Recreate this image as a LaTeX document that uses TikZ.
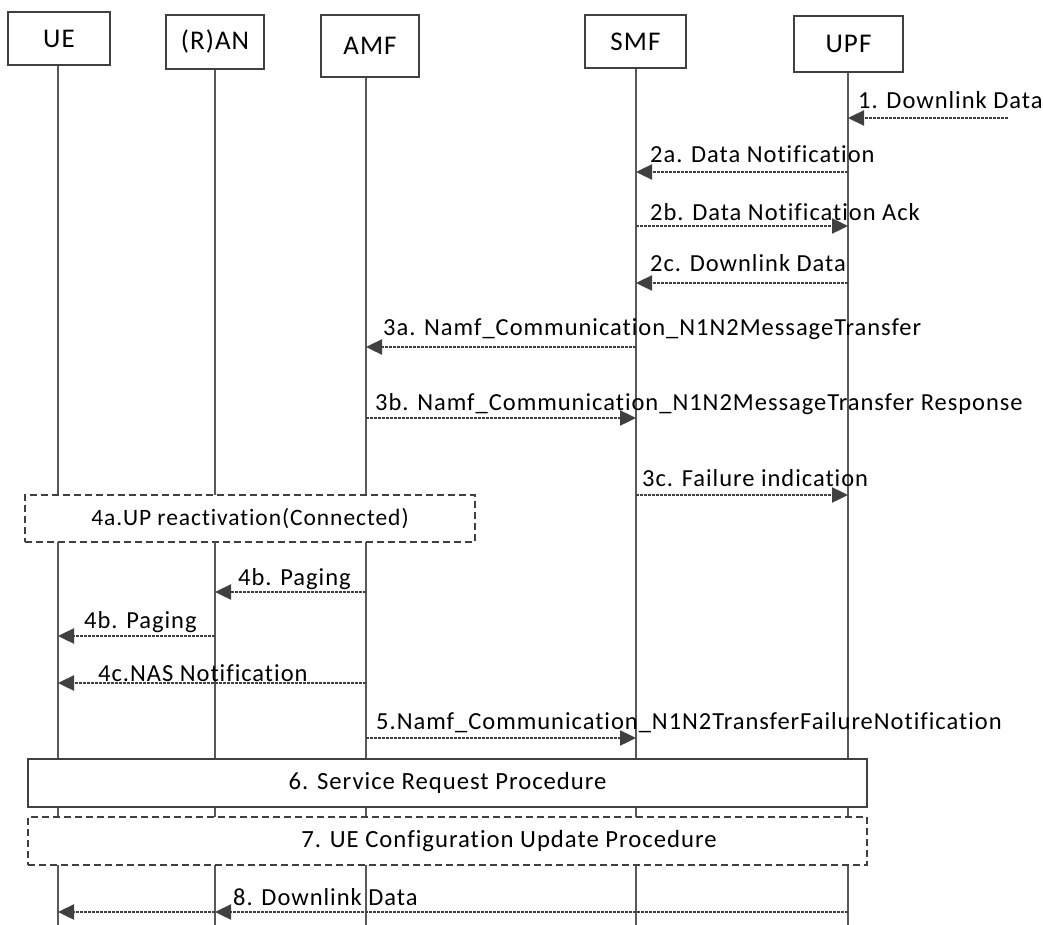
\documentclass[tikz,border=0pt]{standalone}
\usepackage{fontspec}
\setmainfont{Carlito}[LetterSpace=4,Ligatures=NoCommon]
\usetikzlibrary{arrows.meta}
\definecolor{lc}{HTML}{595959}
\definecolor{ac}{HTML}{404040}
\begin{document}
\begin{tikzpicture}[x=1pt,y=-1pt,
  head/.style={draw=ac,line width=1.6pt,fill=white,inner sep=0pt,font=\fontsize{27}{30}\selectfont},
  life/.style={draw=lc,line width=1.6pt},
  msg/.style={draw=ac,line width=2.4pt,dash pattern=on 3pt off 1pt,-{Triangle[length=16pt,width=15pt]}},
  lbl/.style={anchor=base west,inner sep=0pt,font=\fontsize{24.5}{28}\selectfont},
  procbox/.style={draw=ac,line width=1.6pt,fill=white,inner sep=0pt,font=\fontsize{24.7}{28}\selectfont},
  dproc/.style={procbox,dash pattern=on 7pt off 4pt},
]
\useasboundingbox (0,0) rectangle (1043,925);
\coordinate (bot) at (0,925);
% headers
\node[head,minimum width=102pt,minimum height=53pt] (ue) at (59,38.5) {UE};
\node[head,minimum width=98pt,minimum height=54pt] (ran) at (215,42) {(R)AN};
\node[head,minimum width=98pt,minimum height=62pt] (amf) at (370,46) {AMF};
\node[head,minimum width=101pt,minimum height=53pt] (smf) at (635.5,41.5) {SMF};
\node[head,minimum width=109pt,minimum height=56pt] (upf) at (848.5,44) {UPF};
% lifeline anchors
\coordinate (lue) at (58,0);
\coordinate (lran) at (215,0);
\coordinate (lamf) at (366,0);
\coordinate (lsmf) at (636,0);
\coordinate (lupf) at (848,0);
\draw[life] (lue |- ue.south) -- (lue |- bot);
\draw[life] (lran |- ran.south) -- (lran |- bot);
\draw[life] (lamf |- amf.south) -- (lamf |- bot);
\draw[life] (lsmf |- smf.south) -- (lsmf |- bot);
\draw[life] (lupf |- upf.south) -- (lupf |- bot);
% messages
\coordinate (y1) at (0,118);
\coordinate (src1) at (1008,118);
\draw[msg] (src1) -- (lupf |- y1);
\node[lbl] (t1) at (858,109) {1. Downlink Data};

\coordinate (y2a) at (0,172);
\draw[msg] (lupf |- y2a) -- (lsmf |- y2a);
\node[lbl] (t2a) at (650,163) {2a. Data Notification};

\coordinate (y2b) at (0,226);
\draw[msg] (lsmf |- y2b) -- (lupf |- y2b);
\node[lbl] (t2b) at (650,221) {2b. Data Notification Ack};

\coordinate (y2c) at (0,283);
\draw[msg] (lupf |- y2c) -- (lsmf |- y2c);
\node[lbl] (t2c) at (650,271) {2c. Downlink Data};

\coordinate (y3a) at (0,347);
\draw[msg] (lsmf |- y3a) -- (lamf |- y3a);
\node[lbl] (t3a) at (383,335) {3a. Namf\_Communication\_N1N2MessageTransfer};

\coordinate (y3b) at (0,418);
\draw[msg] (lamf |- y3b) -- (lsmf |- y3b);
\node[lbl] (t3b) at (375,410) {3b. Namf\_Communication\_N1N2MessageTransfer Response};

\coordinate (y3c) at (0,495);
\draw[msg] (lsmf |- y3c) -- (lupf |- y3c);
\node[lbl] (t3c) at (642,486) {3c. Failure indication};

\node[dproc,minimum width=450pt,minimum height=47pt,font=\fontsize{23.5}{27}\selectfont] (p4a) at (250,518.5) {4a.UP reactivation(Connected)};

\coordinate (y4b) at (0,592);
\draw[msg] (lamf |- y4b) -- (lran |- y4b);
\node[lbl] (t4b) at (238,585) {4b. Paging};

\coordinate (y4bb) at (0,636);
\draw[msg] (lran |- y4bb) -- (lue |- y4bb);
\node[lbl] (t4bb) at (84,628) {4b. Paging};

\coordinate (y4c) at (0,683);
\draw[msg] (lamf |- y4c) -- (lue |- y4c);
\node[lbl] (t4c) at (98,681) {4c.NAS Notification};

\coordinate (y5) at (0,738);
\draw[msg] (lamf |- y5) -- (lsmf |- y5);
\node[lbl] (t5) at (376,729) {5.Namf\_Communication\_N1N2TransferFailureNotification};

\node[procbox,minimum width=839pt,minimum height=48pt] (p6) at (447.5,783) {6. Service Request Procedure};
\node[dproc,minimum width=839pt,minimum height=48pt] (p7) at (447.5,841) {};
\node[procbox,draw=none,fill=none] (p7t) at (509,841) {7. UE Configuration Update Procedure};

\coordinate (y8) at (0,912);
\draw[msg] (lupf |- y8) -- (lran |- y8);
\draw[msg] (lran |- y8) -- (lue |- y8);
\node[lbl] (t8) at (233,905) {8. Downlink Data};
\end{tikzpicture}
\end{document}
